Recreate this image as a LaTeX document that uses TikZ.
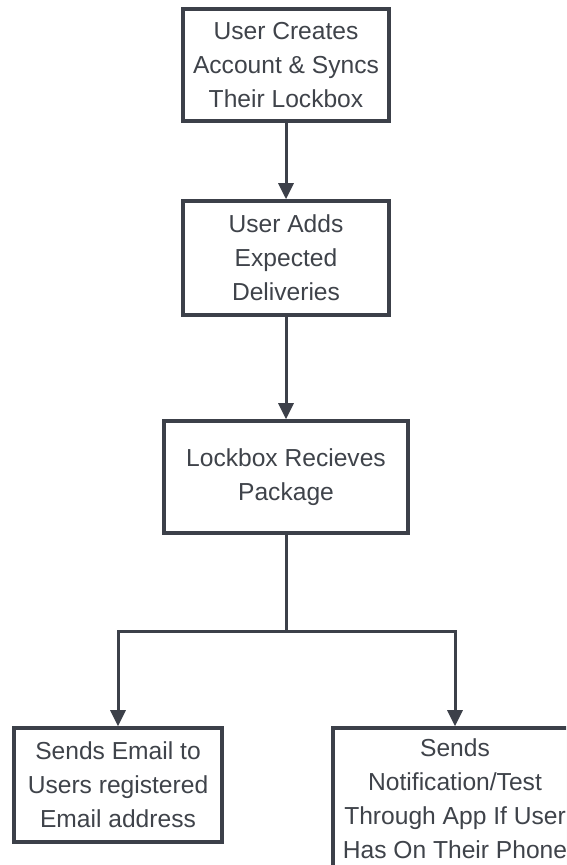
\documentclass[tikz,border=0pt]{standalone}
\usepackage{fontspec}
\setmainfont{Liberation Sans}
\usetikzlibrary{arrows.meta,shadows}
\definecolor{boxline}{HTML}{3C4049}
\definecolor{boxtext}{HTML}{3F434A}
\tikzset{
  stepbox/.style={draw=boxline, line width=1.8pt, fill=white, align=center,
    text=boxtext, font=\fontsize{12.3}{17}\selectfont, inner sep=0pt,
    drop shadow={opacity=0.12, shadow xshift=0.8pt, shadow yshift=-1.2pt}},
  link/.style={draw=boxline, line width=1.5pt, -{Triangle[length=8pt,width=7.5pt]}},
  trunk/.style={draw=boxline, line width=1.5pt}
}
\begin{document}
\begin{tikzpicture}[x=0.5pt,y=-0.5pt]
  \clip (0,0) rectangle (566,865);
  \fill[white] (0,0) rectangle (566,865);
  % steps
  \node[stepbox, minimum width=103pt, minimum height=56pt] (signup) at (286,65)
    {User Creates\\Account \& Syncs\\Their Lockbox};
  \node[stepbox, minimum width=103pt, minimum height=57pt] (expect) at (286,258)
    {User Adds\\Expected\\Deliveries};
  \node[stepbox, minimum width=122pt, minimum height=56pt] (receive) at (286,477)
    {Lockbox Recieves\\Package};
  \node[stepbox, minimum width=104pt, minimum height=57pt] (email) at (118,785)
    {Sends Email to\\Users registered\\Email address};
  \node[stepbox, minimum width=122pt, minimum height=71pt] (notify) at (455,799)
    {Sends\\Notification/Test\\Through App If User\\Has On Their Phone};
  \coordinate (split) at (286,631);
  % connectors
  \draw[link] (signup) -- (expect);
  \draw[link] (expect) -- (receive);
  \draw[trunk] (receive) -- (split);
  \draw[link] (split) -| (email);
  \draw[link] (split) -| (notify);
\end{tikzpicture}
\end{document}
